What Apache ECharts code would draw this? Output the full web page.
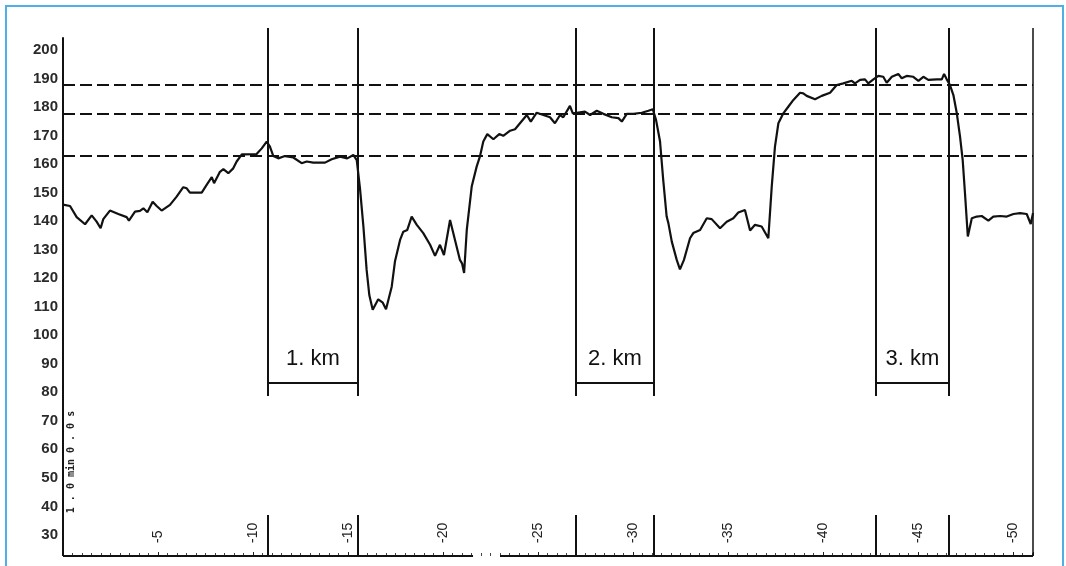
<!DOCTYPE html>
<html>
<head>
<meta charset="utf-8">
<script src="https://cdn.jsdelivr.net/npm/echarts@6/dist/echarts.min.js"></script>
<style>
	html, body { margin: 0; padding: 0; background: #fff; }
	#chart { width: 1066px; height: 566px; }
</style>
</head>
<body>
<div id="chart"></div>
<script>
// time axis (minutes) and heart rate readings
var minutes = [0, 0.37, 0.72, 1.16, 1.51, 1.77, 1.98, 2.12, 2.47, 2.91, 3.35, 3.47, 3.79, 4.05, 4.23, 4.44, 4.72, 4.93, 5.19, 5.63,
	5.98, 6.33, 6.51, 6.68, 7.30, 7.56, 7.83, 7.95, 8.26, 8.44, 8.70, 8.96, 9.14, 9.41, 10.19, 10.46, 10.72, 10.81, 10.89, 11.07,
	11.33, 11.68, 12.12, 12.56, 12.83, 13.17, 13.79, 14.14, 14.58, 14.96, 15.28, 15.46, 15.63, 15.81, 15.98, 16.12, 16.30, 16.59, 16.83, 17.0,
	17.30, 17.47, 17.74, 17.91, 18.12, 18.35, 18.62, 18.96, 19.32, 19.58, 19.84, 20.05, 20.37, 20.63, 20.89, 21.0, 21.11, 21.25, 21.51, 21.77,
	21.94, 22.12, 22.33, 22.65, 22.96, 23.17, 23.53, 23.79, 24.05, 24.41, 24.62, 24.93, 25.28, 25.63, 25.89, 26.16, 26.33, 26.68, 26.83, 27.04,
	27.47, 27.74, 28.09, 28.44, 28.88, 29.23, 29.41, 29.67, 30.02, 30.46, 30.81, 31.04, 31.21, 31.42, 31.59, 31.77, 31.86, 32.04, 32.30, 32.47,
	32.68, 33.0, 33.17, 33.53, 33.88, 34.14, 34.58, 34.93, 35.28, 35.54, 35.89, 36.16, 36.42, 36.77, 37.12, 37.30, 37.47, 37.65, 37.91, 38.17,
	38.44, 38.79, 38.96, 39.14, 39.58, 39.93, 40.37, 40.72, 41.07, 41.51, 41.68, 41.95, 42.21, 42.38, 42.65, 42.91, 43.17, 43.35, 43.62, 43.96,
	44.14, 44.40, 44.75, 45.02, 45.28, 45.54, 45.98, 46.25, 46.37, 46.51, 46.68, 46.86, 47.04, 47.21, 47.35, 47.47, 47.62, 47.83, 48.09, 48.35,
	48.70, 48.96, 49.32, 49.67, 50.02, 50.37, 50.72, 50.93, 51.05];
var heartRate = [145.8, 145.3, 141.4, 138.9, 142, 139.8, 137.5, 140.7, 143.7, 142.5, 141.4, 140.2, 143.3, 143.6, 144.5, 143.1, 146.8, 145.3, 143.7, 145.7,
	148.6, 151.9, 151.5, 150, 150, 152.7, 155.4, 153.3, 157.3, 158.2, 156.8, 158.5, 160.9, 163.4, 163.5, 165.5, 167.9, 168.2, 166.1, 162.8,
	162, 162.8, 162.3, 160.3, 160.9, 160.5, 160.5, 161.7, 162.6, 162, 163.2, 161.4, 151.5, 138.1, 122.9, 114.1, 108.9, 112.6, 111.4, 109.1,
	117, 125.8, 133.4, 136.3, 136.9, 141.6, 138.7, 135.8, 131.7, 127.8, 131.7, 128.1, 140.4, 133.4, 126.4, 125.2, 121.8, 136.9, 152.1, 159.1,
	162.6, 167.9, 170.5, 168.7, 170.5, 169.9, 171.7, 172.2, 174.3, 177.2, 174.9, 178, 177.2, 176.4, 174.3, 177.2, 176.4, 180.4, 177.8, 178,
	178.4, 177.2, 178.7, 177.6, 176.4, 176.1, 174.9, 177.6, 177.6, 178, 178.7, 179.2, 175.5, 168, 154.4, 141.6, 139.3, 132.8, 126.4, 123.1,
	126.4, 134, 135.8, 136.9, 141, 140.7, 137.5, 139.8, 141, 143, 143.9, 136.7, 138.7, 138.1, 134, 152.1, 166.1, 174.3, 177.8, 180.1,
	182.5, 185, 184.8, 183.9, 182.7, 183.9, 185, 187.7, 188.3, 189.2, 188.3, 189.5, 189.7, 188.3, 189.7, 190.9, 190.6, 188.5, 190.6, 191.6,
	190.1, 190.9, 190.6, 189.2, 190.6, 189.5, 189.7, 189.7, 191.6, 189.7, 187.7, 184.2, 177.8, 169.6, 161.4, 149.8, 134.6, 141, 141.6, 141.8,
	140.2, 141.6, 141.8, 141.6, 142.5, 142.8, 142.5, 139, 142.8];

var zoneLines = [187.8, 177.6, 162.8];
var kmStart = [10.8, 27.0, 42.8];
var kmEnd = [15.5, 31.1, 46.6];
var kmLabels = ['1. km', '2. km', '3. km'];
var yTicks = [30, 40, 50, 60, 70, 80, 90, 100, 110, 120, 130, 140, 150, 160, 170, 180, 190, 200];

var yMin = 22.6, yMax = 207.7, yTop = 204.5, xMax = 51.05;
var axisGap = [21.58, 23.0];
var kmLineBottom = 78.7, kmBracket = 83.4, kmTickTop = 37;

var structure = [];
// axis lines (the scan has a gap in the time axis)
structure.push([{ coord: [0, yMin] }, { coord: [axisGap[0], yMin] }]);
structure.push([{ coord: [axisGap[1], yMin] }, { coord: [xMax, yMin] }]);
structure.push([{ coord: [0, yMin] }, { coord: [0, yTop] }]);
structure.push([{ coord: [xMax, yMin] }, { coord: [xMax, yMax], lineStyle: { width: 1.5 } }]);
for (var i = 0; i < kmStart.length; i++) {
	[kmStart[i], kmEnd[i]].forEach(function (x) {
		structure.push([{ coord: [x, yMax] }, { coord: [x, kmLineBottom] }]);
		structure.push([{ coord: [x, yMin] }, { coord: [x, kmTickTop] }]);
	});
	structure.push([
		{ coord: [kmStart[i], kmBracket], label: { show: true, formatter: kmLabels[i] } },
		{ coord: [kmEnd[i], kmBracket] }
	]);
}

var myChart = echarts.init(document.getElementById('chart'));
var option = {
	animation: false,
	backgroundColor: '#fff',
	grid: {
		left: 63,
		right: 33,
		top: 28,
		bottom: 10
	},
	xAxis: {
		type: 'value',
		min: 0,
		max: xMax,
		interval: 5,
		axisLine: { show: false },
		splitLine: { show: false },
		axisTick: {
			show: true,
			inside: true,
			length: 4,
			lineStyle: { color: '#222', width: 1 }
		},
		minorTick: {
			show: true,
			splitNumber: 10,
			length: 3,
			lineStyle: { color: '#444', width: 1 }
		},
		axisLabel: {
			inside: true,
			rotate: 90,
			margin: 13,
			fontSize: 14,
			fontFamily: 'Liberation Sans',
			color: '#222',
			showMaxLabel: false,
			formatter: function (v) {
				return (v > 0 && v % 5 === 0) ? '-' + v : '';
			}
		}
	},
	yAxis: {
		type: 'value',
		min: yMin,
		max: yMax,
		axisLine: { show: false },
		axisTick: { show: false },
		splitLine: { show: false },
		axisLabel: {
			customValues: yTicks,
			margin: 5,
			fontSize: 15,
			fontWeight: 'bold',
			fontFamily: 'Liberation Sans',
			color: '#2a2a2a'
		}
	},
	graphic: [
		{
			type: 'rect',
			silent: true,
			shape: { x: 6, y: 6, width: 1057, height: 600 },
			style: { fill: 'none', stroke: '#4fb0e6', lineWidth: 2 }
		},
		{
			type: 'text',
			silent: true,
			x: 71,
			y: 462,
			rotation: Math.PI / 2,
			style: {
				text: '1 . 0 min 0 . 0 s',
				font: 'bold 10px "DejaVu Sans Mono"',
				fill: '#222',
				align: 'center',
				verticalAlign: 'middle'
			}
		}
	],
	series: [
		{
			name: 'zones',
			type: 'line',
			data: [],
			clip: false,
			markLine: {
				silent: true,
				symbol: 'none',
				label: { show: false },
				lineStyle: { color: '#111', type: [12, 5], width: 2 },
				data: zoneLines.map(function (v) { return { yAxis: v }; })
			}
		},
		{
			name: 'frame',
			type: 'line',
			data: [],
			clip: false,
			markLine: {
				silent: true,
				symbol: 'none',
				lineStyle: { color: '#111', type: 'solid', width: 2 },
				label: {
					show: false,
					position: 'insideMiddleTop',
					distance: 13,
					fontSize: 22,
					fontFamily: 'Liberation Sans',
					color: '#111'
				},
				data: structure
			}
		},
		{
			name: 'heart rate',
			type: 'line',
			data: minutes.map(function (m, k) { return [m, heartRate[k]]; }),
			showSymbol: false,
			symbol: 'none',
			clip: false,
			lineStyle: { color: '#111', width: 2.2 },
			z: 5
		}
	]
};
myChart.setOption(option);

window.addEventListener("resize", function() {
	myChart.resize();
});
</script>
</body>
</html>
